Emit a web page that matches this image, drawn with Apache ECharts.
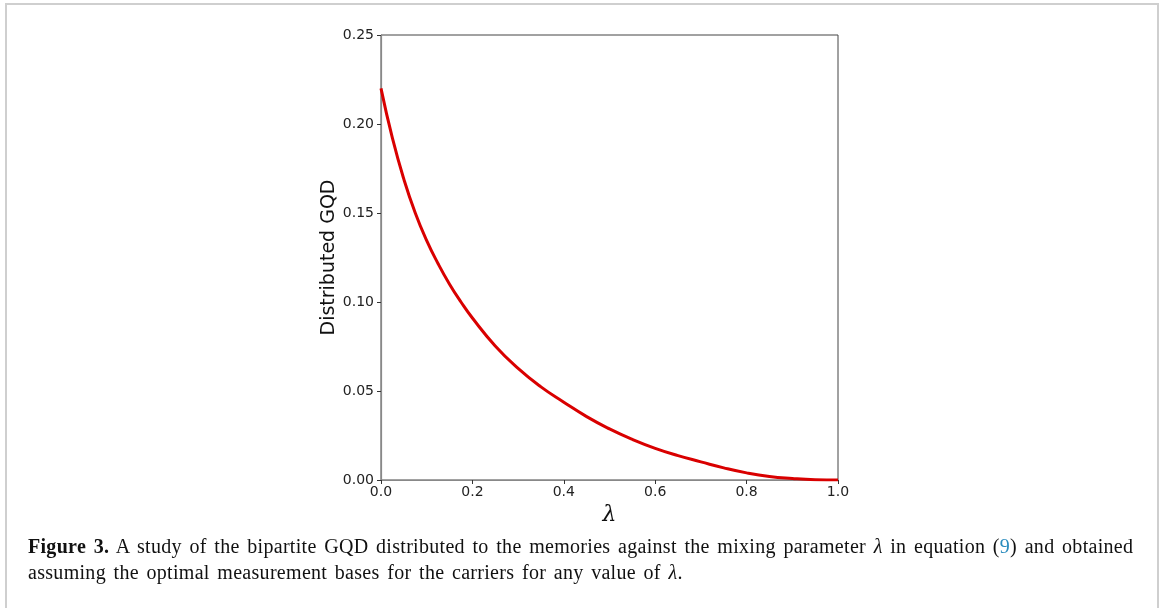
<!DOCTYPE html>
<html>
<head>
<meta charset="utf-8">
<script src="https://cdn.jsdelivr.net/npm/echarts@6/dist/echarts.min.js"></script>
<style>
  html, body { margin: 0; padding: 0; background: #fff; }
  #wrap { position: relative; width: 1168px; height: 608px; overflow: hidden; }
  #frame { position: absolute; left: 5px; top: 3px; width: 1154px; height: 640px;
    border: 2px solid #cfcfcf; box-sizing: border-box; }
  #chart { position: absolute; left: 0; top: 0; width: 1168px; height: 608px; }
  #caption { position: absolute; left: 28px; top: 533px; width: 1130px; white-space: nowrap;
    font-family: 'Liberation Serif', 'DejaVu Serif', serif; font-size: 20px;
    letter-spacing: 0.3px; word-spacing: 2.3px;
    line-height: 26px; color: #111; }
  #caption .ref { color: #2b8cbe; }
</style>
</head>
<body>
<div id="wrap">
  <div id="frame"></div>
  <div id="chart"></div>
  <div id="caption"><b>Figure 3.</b> A study of the bipartite GQD distributed to the memories against the mixing parameter <i>λ</i> in equation (<span class="ref">9</span>) and obtained<br>assuming the optimal measurement bases for the carriers for any value of <i>λ</i>.</div>
</div>
<script>
// values
const lambdaVals = [0, 0.025, 0.05, 0.075, 0.1, 0.125, 0.15, 0.175, 0.2, 0.25, 0.3, 0.35, 0.4, 0.45, 0.5, 0.55, 0.6, 0.65, 0.7, 0.75, 0.8, 0.85, 0.9, 0.95, 1.0]
const gqdVals = [0.220, 0.192, 0.169, 0.150, 0.1345, 0.1215, 0.110, 0.100, 0.0910, 0.0753, 0.0627, 0.0523, 0.0437, 0.0356, 0.0287, 0.0228, 0.0178, 0.0137, 0.0102, 0.0068, 0.0040, 0.0020, 0.0009, 0.0002, 0]
const xTicks = ['0.0', '0.2', '0.4', '0.6', '0.8', '1.0']
const yTicks = ['0.00', '0.05', '0.10', '0.15', '0.20', '0.25']

let chart = echarts.init(document.getElementById('chart'))
let tickFont = { fontFamily: 'DejaVu Sans', fontSize: 14, color: '#222' }

let option = {
  animation: false,
  grid: {
    left: 381, top: 35, width: 457, height: 445,
    show: true, borderColor: '#444', borderWidth: 1
  },
  xAxis: {
    type: 'value', min: 0, max: 1, interval: 0.2,
    name: 'λ', nameLocation: 'middle', nameGap: 15,
    nameTextStyle: { fontFamily: 'DejaVu Serif', fontStyle: 'italic', fontSize: 22, color: '#111' },
    axisLine: { show: true, lineStyle: { color: '#888', width: 1.2 } },
    axisTick: { show: true, length: 4, lineStyle: { color: '#333' } },
    axisLabel: Object.assign({ margin: 5, formatter: (v) => xTicks[Math.round(v / 0.2)] }, tickFont),
    splitLine: { show: false }
  },
  yAxis: {
    type: 'value', min: 0, max: 0.25, interval: 0.05,
    name: 'Distributed GQD', nameLocation: 'middle', nameGap: 42,
    nameTextStyle: { fontFamily: 'DejaVu Sans', fontSize: 19, color: '#111' },
    axisLine: { show: true, lineStyle: { color: '#888', width: 1.2 } },
    axisTick: { show: true, length: 4, lineStyle: { color: '#333' } },
    axisLabel: Object.assign({ margin: 7, formatter: (v) => yTicks[Math.round(v / 0.05)] }, tickFont),
    splitLine: { show: false }
  },
  series: [{
    type: 'line',
    data: lambdaVals.map((x, i) => [x, gqdVals[i]]),
    smooth: 0.5,
    showSymbol: false,
    lineStyle: { color: '#d90000', width: 3 }
  }]
}

chart.setOption(option)
</script>
</body>
</html>
